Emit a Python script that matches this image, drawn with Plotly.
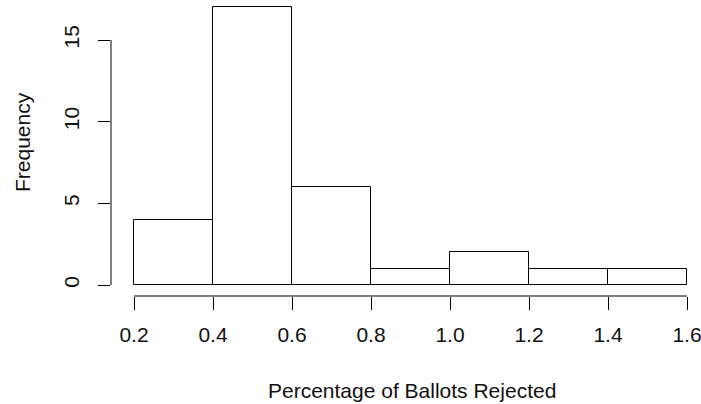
import plotly.graph_objects as go

bin_starts = [0.2, 0.4, 0.6, 0.8, 1.0, 1.2, 1.4]
bin_width = 0.2
counts = [4, 17, 6, 1, 2, 1, 1]
x_ticks = [0.2, 0.4, 0.6, 0.8, 1.0, 1.2, 1.4, 1.6]
x_tick_labels = ["0.2", "0.4", "0.6", "0.8", "1.0", "1.2", "1.4", "1.6"]
y_ticks = [0, 5, 10, 15]
y_tick_labels = ["0", "5", "10", "15"]

FONT = "Liberation Sans, Arial, sans-serif"
FS = 21
W, H = 701, 404
ml, mr, mt, mb = 111, 1, 2, 108

centers = [s + bin_width / 2 for s in bin_starts]

fig = go.Figure()
fig.add_trace(go.Bar(
    x=centers, y=counts, width=[bin_width] * len(counts),
    marker=dict(color="white", line=dict(color="black", width=1)),
    showlegend=False, hoverinfo="skip",
))

pw = W - ml - mr
ph = H - mt - mb

fig.update_layout(
    width=W, height=H,
    margin=dict(l=ml, r=mr, t=mt, b=mb, pad=0),
    paper_bgcolor="white", plot_bgcolor="white",
    font=dict(family=FONT, size=FS, color="black"),
    bargap=0,
    xaxis=dict(
        range=[0.141772, 1.632911],
        tickvals=x_ticks, ticktext=x_tick_labels,
        ticks="outside", ticklen=13, tickwidth=1, tickcolor="black",
        showline=False, showgrid=False, zeroline=False,
        tickfont=dict(family=FONT, size=FS, color="#111"),
        ticklabelstandoff=7,
        ticklabeloverflow="allow",
        automargin=False,
    ),
    yaxis=dict(
        range=[-0.67347, 17.3265],
        tickvals=y_ticks, ticktext=y_tick_labels,
        ticks="outside", ticklen=12, tickwidth=1, tickcolor="black",
        showline=False, showgrid=False, zeroline=False,
        tickangle=-90,
        tickfont=dict(family=FONT, size=FS, color="#111"),
        ticklabelstandoff=11,
        automargin=False,
    ),
    shapes=[
        dict(type="line", xref="x", yref="paper", x0=x_ticks[0], x1=x_ticks[-1], y0=0, y1=0,
             line=dict(color="black", width=1)),
        dict(type="line", xref="paper", yref="y", x0=0, x1=0, y0=y_ticks[0], y1=y_ticks[-1],
             line=dict(color="black", width=1)),
    ],
    annotations=[
        dict(text="Percentage of Ballots Rejected", xref="paper", yref="paper",
             x=(412 - ml) / pw, y=(296 - 390) / ph, xanchor="center", yanchor="middle",
             showarrow=False, font=dict(family=FONT, size=FS, color="#111")),
        dict(text="Frequency", xref="paper", yref="paper",
             x=(22 - ml) / pw, y=(296 - 142) / ph, xanchor="center", yanchor="middle",
             textangle=-90, showarrow=False, font=dict(family=FONT, size=FS, color="#111")),
    ],
)

fig.write_html("out.html")
